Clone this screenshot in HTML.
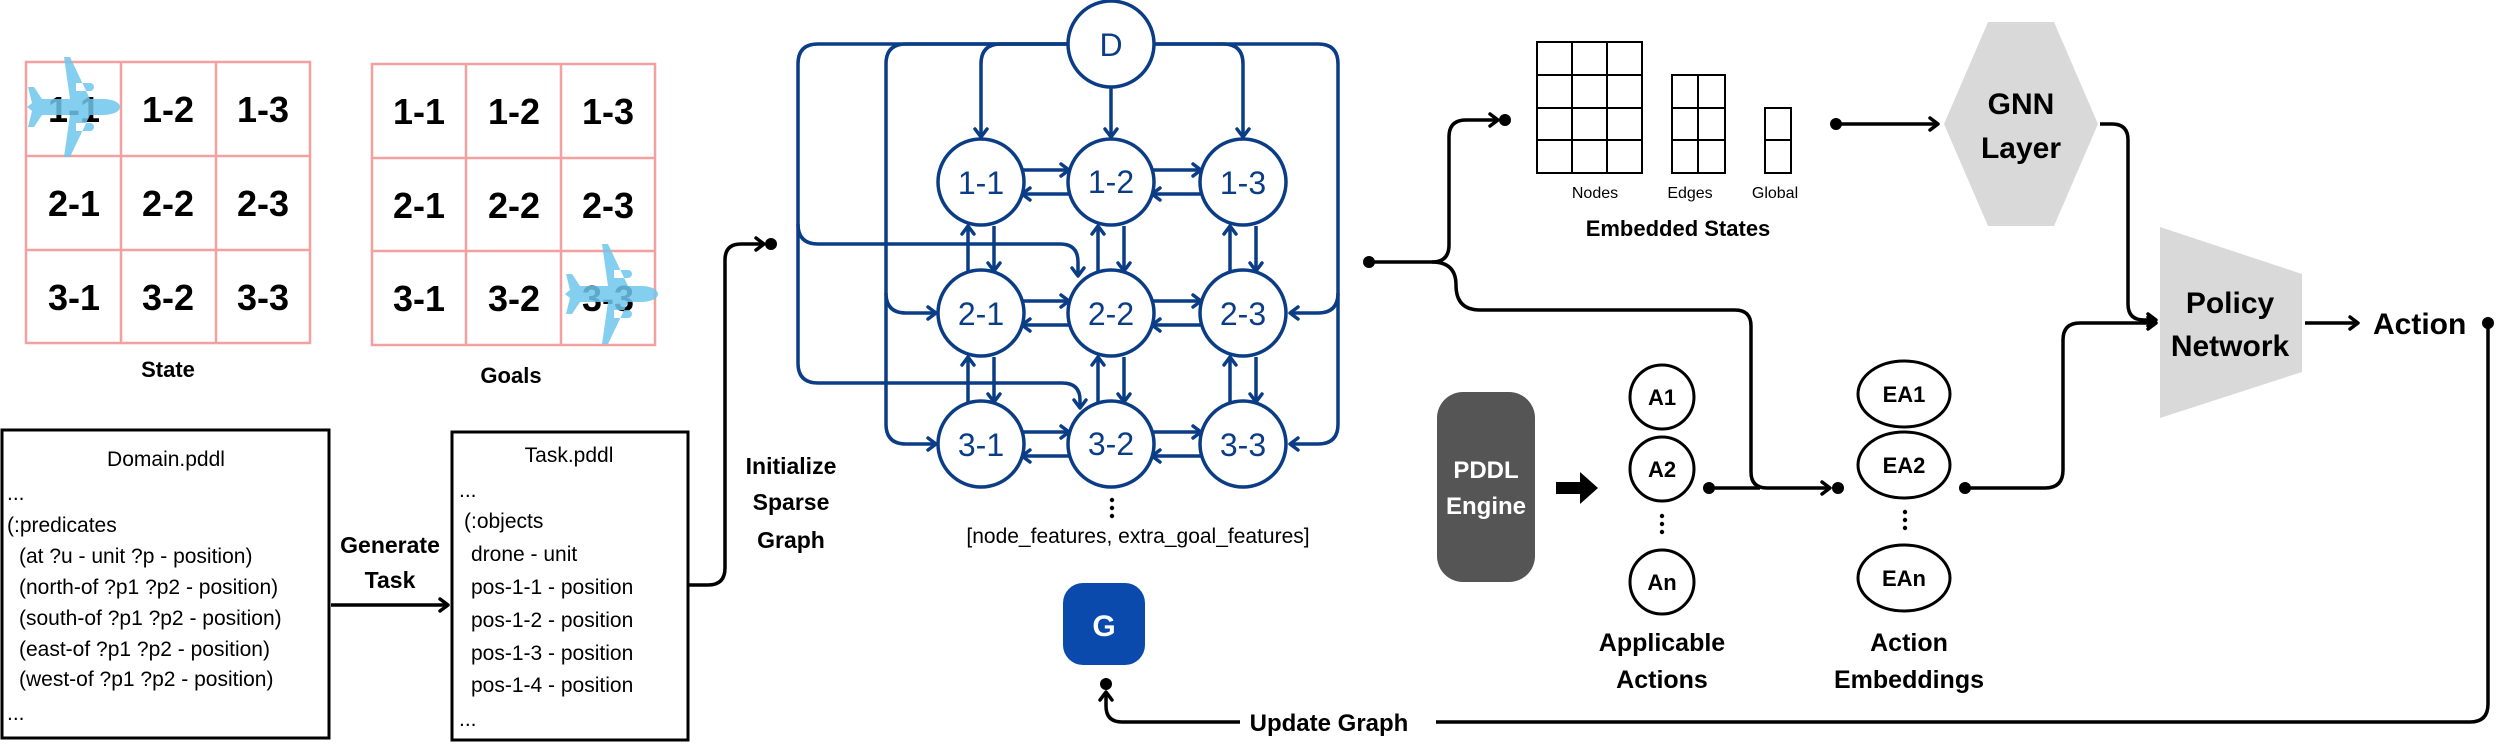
<!DOCTYPE html>
<html><head><meta charset="utf-8"><style>
html,body{margin:0;padding:0;background:#fff;}
svg{display:block;}
text{font-family:"Liberation Sans",sans-serif;}
</style></head><body>
<svg width="2500" height="754" viewBox="0 0 2500 754" xmlns="http://www.w3.org/2000/svg">
<defs>
<marker id="ab" markerUnits="userSpaceOnUse" markerWidth="16" markerHeight="16" refX="11" refY="8" orient="auto">
<path d="M3,2 L11,8 L3,14" fill="none" stroke="#0b3d86" stroke-width="3.5" stroke-linecap="round" stroke-linejoin="round"/></marker>
<marker id="ak" markerUnits="userSpaceOnUse" markerWidth="16" markerHeight="16" refX="11" refY="8" orient="auto">
<path d="M3,2 L11,8 L3,14" fill="none" stroke="#000" stroke-width="3.5" stroke-linecap="round" stroke-linejoin="round"/></marker>
<path id="plane" d="M48,0 C48,-5 40,-8 30,-8 L18,-8 L-2,-50 L-8,-50 L-2,-8 L-30,-8 L-38,-20 L-44,-20 L-40,-4 L-45,0 L-40,4 L-44,20 L-38,20 L-30,8 L-2,8 L-8,50 L-2,50 L18,8 L30,8 C40,8 48,5 48,0 Z M4,-24 h14 a4,4 0 0 1 0,8 h-14z M4,16 h14 a4,4 0 0 1 0,8 h-14z"/>
</defs>

<!-- State grid -->
<g stroke="#f4a0a0" stroke-width="2.5" fill="none">
<rect x="26" y="62" width="284" height="281"/>
<line x1="121" y1="62" x2="121" y2="343"/><line x1="216" y1="62" x2="216" y2="343"/>
<line x1="26" y1="156" x2="310" y2="156"/><line x1="26" y1="250" x2="310" y2="250"/>
<rect x="372" y="64" width="283" height="281"/>
<line x1="466" y1="64" x2="466" y2="345"/><line x1="561" y1="64" x2="561" y2="345"/>
<line x1="372" y1="158" x2="655" y2="158"/><line x1="372" y1="251" x2="655" y2="251"/>
</g>
<g font-size="36" font-weight="bold" text-anchor="middle" fill="#000">
<text x="74" y="122">1-1</text><text x="168" y="122">1-2</text><text x="263" y="122">1-3</text>
<text x="74" y="216">2-1</text><text x="168" y="216">2-2</text><text x="263" y="216">2-3</text>
<text x="74" y="310">3-1</text><text x="168" y="310">3-2</text><text x="263" y="310">3-3</text>
<text x="419" y="124">1-1</text><text x="514" y="124">1-2</text><text x="608" y="124">1-3</text>
<text x="419" y="218">2-1</text><text x="514" y="218">2-2</text><text x="608" y="218">2-3</text>
<text x="419" y="311">3-1</text><text x="514" y="311">3-2</text><text x="608" y="311">3-3</text>
</g>
<use href="#plane" transform="translate(72,107)" fill="#6ec6ec" fill-opacity="0.85"/>
<use href="#plane" transform="translate(610,294)" fill="#6ec6ec" fill-opacity="0.85"/>
<g font-size="22" font-weight="bold" text-anchor="middle">
<text x="168" y="377">State</text><text x="511" y="383">Goals</text>
</g>

<!-- Domain box -->
<rect x="2" y="430" width="327" height="308" fill="none" stroke="#000" stroke-width="3"/>
<g font-size="21">
<text x="166" y="466" text-anchor="middle">Domain.pddl</text>
<text x="7" y="500">...</text>
<text x="7" y="532">(:predicates</text>
<text x="19" y="563">(at ?u - unit ?p - position)</text>
<text x="19" y="594">(north-of ?p1 ?p2 - position)</text>
<text x="19" y="625">(south-of ?p1 ?p2 - position)</text>
<text x="19" y="656">(east-of ?p1 ?p2 - position)</text>
<text x="19" y="686">(west-of ?p1 ?p2 - position)</text>
<text x="7" y="720">...</text>
</g>
<g font-size="23" font-weight="bold" text-anchor="middle">
<text x="390" y="553">Generate</text><text x="390" y="588">Task</text>
</g>
<line x1="331" y1="605" x2="448" y2="605" stroke="#000" stroke-width="3.5" marker-end="url(#ak)"/>

<!-- Task box -->
<rect x="452" y="432" width="236" height="308" fill="none" stroke="#000" stroke-width="3"/>
<g font-size="21">
<text x="569" y="462" text-anchor="middle">Task.pddl</text>
<text x="459" y="497">...</text>
<text x="464" y="528">(:objects</text>
<text x="471" y="561">drone - unit</text>
<text x="471" y="594">pos-1-1 - position</text>
<text x="471" y="627">pos-1-2 - position</text>
<text x="471" y="660">pos-1-3 - position</text>
<text x="471" y="692">pos-1-4 - position</text>
<text x="459" y="726">...</text>
</g>
<path d="M689,585 H708 Q725,585 725,568 V260 Q725,244 741,244 H764" fill="none" stroke="#000" stroke-width="3.5" marker-end="url(#ak)"/>
<circle cx="771" cy="244" r="6"/>
<g font-size="23" font-weight="bold" text-anchor="middle">
<text x="791" y="474">Initialize</text><text x="791" y="510">Sparse</text><text x="791" y="548">Graph</text>
</g>

<!-- Graph -->
<g fill="none" stroke="#0b3d86" stroke-width="3.5">
<path d="M1067,44 H818 Q798,44 798,64 V224 Q798,244 818,244 H1060 Q1078,244 1078,262 V276" marker-end="url(#ab)"/>
<path d="M798,224 V363 Q798,383 818,383 H1062 Q1080,383 1080,400 V408" marker-end="url(#ab)"/>
<path d="M1067,44 H906 Q886,44 886,64 V293 Q886,313 906,313 H936" marker-end="url(#ab)"/>
<path d="M886,293 V424 Q886,444 906,444 H936" marker-end="url(#ab)"/>
<path d="M1067,44 H1001 Q981,44 981,64 V137" marker-end="url(#ab)"/>
<path d="M1111,88 V137" marker-end="url(#ab)"/>
<path d="M1155,44 H1223 Q1243,44 1243,64 V137" marker-end="url(#ab)"/>
<path d="M1155,44 H1318 Q1338,44 1338,64 V293 Q1338,313 1318,313 H1290" marker-end="url(#ab)"/>
<path d="M1338,293 V424 Q1338,444 1318,444 H1290" marker-end="url(#ab)"/>
<!-- horizontals -->
<path d="M1022,170 H1069" marker-end="url(#ab)"/><path d="M1069,194 H1022" marker-end="url(#ab)"/>
<path d="M1152,170 H1201" marker-end="url(#ab)"/><path d="M1201,194 H1152" marker-end="url(#ab)"/>
<path d="M1022,301 H1069" marker-end="url(#ab)"/><path d="M1069,325 H1022" marker-end="url(#ab)"/>
<path d="M1152,301 H1201" marker-end="url(#ab)"/><path d="M1201,325 H1152" marker-end="url(#ab)"/>
<path d="M1022,432 H1069" marker-end="url(#ab)"/><path d="M1069,456 H1022" marker-end="url(#ab)"/>
<path d="M1152,432 H1201" marker-end="url(#ab)"/><path d="M1201,456 H1152" marker-end="url(#ab)"/>
<!-- verticals -->
<path d="M968,271 V226" marker-end="url(#ab)"/><path d="M994,226 V271" marker-end="url(#ab)"/>
<path d="M1098,271 V226" marker-end="url(#ab)"/><path d="M1124,226 V271" marker-end="url(#ab)"/>
<path d="M1230,271 V226" marker-end="url(#ab)"/><path d="M1256,226 V271" marker-end="url(#ab)"/>
<path d="M968,402 V357" marker-end="url(#ab)"/><path d="M994,357 V402" marker-end="url(#ab)"/>
<path d="M1098,402 V357" marker-end="url(#ab)"/><path d="M1124,357 V402" marker-end="url(#ab)"/>
<path d="M1230,402 V357" marker-end="url(#ab)"/><path d="M1256,357 V402" marker-end="url(#ab)"/>
</g>
<g fill="#fff" stroke="#0b3d86" stroke-width="3.5">
<circle cx="1111" cy="44" r="43"/>
<circle cx="981" cy="182" r="43"/><circle cx="1111" cy="182" r="43"/><circle cx="1243" cy="182" r="43"/>
<circle cx="981" cy="313" r="43"/><circle cx="1111" cy="313" r="43"/><circle cx="1243" cy="313" r="43"/>
<circle cx="981" cy="444" r="43"/><circle cx="1111" cy="444" r="43"/><circle cx="1243" cy="444" r="43"/>
</g>
<g font-size="32" fill="#0b3d86" text-anchor="middle">
<text x="1111" y="56">D</text>
<text x="981" y="194">1-1</text><text x="1111" y="193">1-2</text><text x="1243" y="194">1-3</text>
<text x="981" y="325">2-1</text><text x="1111" y="325">2-2</text><text x="1243" y="325">2-3</text>
<text x="981" y="456">3-1</text><text x="1111" y="455">3-2</text><text x="1243" y="456">3-3</text>
</g>
<g fill="#000"><circle cx="1112" cy="500" r="2.2"/><circle cx="1112" cy="508" r="2.2"/><circle cx="1112" cy="516" r="2.2"/></g>
<text x="1138" y="543" font-size="21" text-anchor="middle">[node_features, extra_goal_features]</text>

<!-- G -->
<rect x="1063" y="583" width="82" height="82" rx="20" fill="#0a4aad"/>
<text x="1104" y="636" font-size="30" font-weight="bold" fill="#fff" text-anchor="middle">G</text>
<circle cx="1106" cy="684" r="6"/>
<path d="M1240,722 H1122 Q1106,722 1106,706 V692" fill="none" stroke="#000" stroke-width="3.5" marker-end="url(#ak)"/>
<text x="1329" y="731" font-size="24" font-weight="bold" text-anchor="middle">Update Graph</text>
<path d="M1436,722 H2470 Q2488,722 2488,704 V323" fill="none" stroke="#000" stroke-width="3.5"/>

<!-- branch -->
<circle cx="1369" cy="262" r="6"/>
<path d="M1369,262 H1432 Q1449,262 1449,245 V137 Q1449,120 1466,120 H1498" fill="none" stroke="#000" stroke-width="3.5" marker-end="url(#ak)"/>
<circle cx="1505" cy="120" r="6"/>
<path d="M1432,262 Q1456,262 1456,285 Q1456,310 1480,310 H1735 Q1751,310 1751,326 V472 Q1751,488 1767,488 H1830" fill="none" stroke="#000" stroke-width="3.5" marker-end="url(#ak)"/>
<circle cx="1838" cy="488" r="6"/>

<!-- embedded states -->
<g fill="none" stroke="#000" stroke-width="2">
<rect x="1537" y="42" width="105" height="131"/>
<line x1="1572" y1="42" x2="1572" y2="173"/><line x1="1607" y1="42" x2="1607" y2="173"/>
<line x1="1537" y1="75" x2="1642" y2="75"/><line x1="1537" y1="108" x2="1642" y2="108"/><line x1="1537" y1="140" x2="1642" y2="140"/>
<rect x="1672" y="75" width="53" height="98"/>
<line x1="1698" y1="75" x2="1698" y2="173"/>
<line x1="1672" y1="108" x2="1725" y2="108"/><line x1="1672" y1="140" x2="1725" y2="140"/>
<rect x="1765" y="108" width="26" height="65"/>
<line x1="1765" y1="140" x2="1791" y2="140"/>
</g>
<g font-size="16" text-anchor="middle">
<text x="1595" y="198">Nodes</text><text x="1690" y="198">Edges</text><text x="1775" y="198">Global</text>
</g>
<text x="1678" y="236" font-size="22" font-weight="bold" text-anchor="middle">Embedded States</text>
<circle cx="1836" cy="124" r="6"/>
<line x1="1836" y1="124" x2="1938" y2="124" stroke="#000" stroke-width="3.5" marker-end="url(#ak)"/>

<!-- GNN -->
<polygon points="1988,22 2054,22 2098,124 2054,226 1988,226 1944,124" fill="#d9d9d9"/>
<g font-size="30" font-weight="bold" text-anchor="middle">
<text x="2021" y="114">GNN</text><text x="2021" y="158">Layer</text>
</g>
<path d="M2100,124 H2112 Q2128,124 2128,140 V304 Q2128,320 2144,320 H2156" fill="none" stroke="#000" stroke-width="3.5" marker-end="url(#ak)"/>

<!-- Policy -->
<polygon points="2160,227 2302,274 2302,372 2160,418" fill="#d9d9d9"/>
<g font-size="30" font-weight="bold" text-anchor="middle">
<text x="2230" y="313">Policy</text><text x="2230" y="356">Network</text>
</g>
<line x1="2305" y1="323" x2="2358" y2="323" stroke="#000" stroke-width="3.5" marker-end="url(#ak)"/>
<text x="2373" y="334" font-size="30" font-weight="bold">Action</text>
<circle cx="2488" cy="323" r="6"/>

<!-- PDDL engine -->
<rect x="1437" y="392" width="98" height="190" rx="26" fill="#555"/>
<g font-size="24" font-weight="bold" fill="#fff" text-anchor="middle">
<text x="1486" y="478">PDDL</text><text x="1486" y="514">Engine</text>
</g>
<polygon points="1556,482 1580,482 1580,472 1598,488 1580,504 1580,494 1556,494" fill="#000"/>

<!-- A circles -->
<g fill="#fff" stroke="#000" stroke-width="3">
<circle cx="1662" cy="397" r="32"/><circle cx="1662" cy="469" r="32"/><circle cx="1662" cy="582" r="32"/>
<ellipse cx="1904" cy="394" rx="46" ry="33"/><ellipse cx="1904" cy="465" rx="46" ry="33"/><ellipse cx="1904" cy="578" rx="46" ry="33"/>
</g>
<g font-size="22" font-weight="bold" text-anchor="middle">
<text x="1662" y="405">A1</text><text x="1662" y="477">A2</text><text x="1662" y="590">An</text>
<text x="1904" y="402">EA1</text><text x="1904" y="473">EA2</text><text x="1904" y="586">EAn</text>
</g>
<g fill="#000">
<circle cx="1662" cy="516" r="2.2"/><circle cx="1662" cy="524" r="2.2"/><circle cx="1662" cy="532" r="2.2"/>
<circle cx="1905" cy="512" r="2.2"/><circle cx="1905" cy="520" r="2.2"/><circle cx="1905" cy="528" r="2.2"/>
</g>
<circle cx="1709" cy="488" r="6"/>
<line x1="1709" y1="488" x2="1760" y2="488" stroke="#000" stroke-width="3.5"/>
<circle cx="1965" cy="488" r="6"/>
<path d="M1965,488 H2045 Q2063,488 2063,470 V340 Q2063,323 2080,323 H2156" fill="none" stroke="#000" stroke-width="3.5" marker-end="url(#ak)"/>
<g font-size="25" font-weight="bold" text-anchor="middle">
<text x="1662" y="651">Applicable</text><text x="1662" y="688">Actions</text>
<text x="1909" y="651">Action</text><text x="1909" y="688">Embeddings</text>
</g>
</svg>
</body></html>
